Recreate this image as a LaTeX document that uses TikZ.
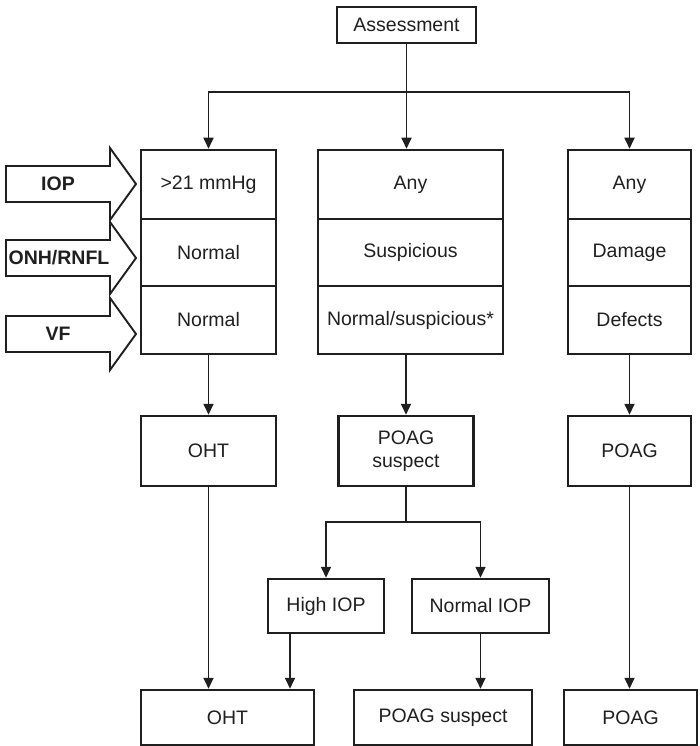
\documentclass[tikz,border=0pt]{standalone}
\usepackage{fontspec}
\setmainfont{Liberation Sans}
\usetikzlibrary{arrows.meta,calc}
\begin{document}
\begin{tikzpicture}[x=1pt,y=-1pt,
  every node/.style={font=\fontsize{19.5}{23}\selectfont, text=black!88},
  box/.style={draw=black!88, line width=2.5pt, inner sep=0pt, align=center},
  conn/.style={draw=black!88, line width=1.7pt},
  arr/.style={conn, -{Triangle[length=11pt,width=10pt]}},
  blk/.style={draw=black!88, line width=1.9pt, line join=miter},
  lab/.style={font=\fontsize{19.5}{23}\selectfont\bfseries},
  blockarr/.pic={\draw[blk] (-52,-18) -- (52,-18) -- (52,-36) -- (78,0) -- (52,36) -- (52,18) -- (-52,18) -- cycle;}]
\useasboundingbox (0,0) rectangle (700,746);

% top
\node[box, minimum width=139pt, minimum height=36pt] (assess) at (406.5,25) {Assessment};

% left column
\node[box, minimum width=135pt, minimum height=69pt] (l1) at (208.5,184.5) {>21 mmHg};
\node[box, minimum width=135pt, minimum height=67pt] (l2) at (208.5,252.5) {Normal};
\node[box, minimum width=135pt, minimum height=68pt] (l3) at (208.5,320) {Normal};
% middle column
\node[box, minimum width=185pt, minimum height=69pt] (m1) at (410.5,184.5) {Any};
\node[box, minimum width=185pt, minimum height=67pt] (m2) at (410.5,252.5) {Suspicious};
\node[box, minimum width=185pt, minimum height=68pt] (m3) at (410.5,320) {Normal/suspicious*};
% right column
\node[box, minimum width=123pt, minimum height=69pt] (r1) at (629.5,184.5) {Any};
\node[box, minimum width=123pt, minimum height=67pt] (r2) at (629.5,252.5) {Damage};
\node[box, minimum width=123pt, minimum height=68pt] (r3) at (629.5,320) {Defects};

% block arrows
\pic at (58,184) {blockarr};
\pic at (58,258) {blockarr};
\pic at (58,334) {blockarr};
\node[lab] (tiop) at (58,184) {IOP};
\node[lab] (tonh) at (59,258) {ONH/RNFL};
\node[lab] (tvf) at (58,334) {VF};

% second row
\node[box, minimum width=135pt, minimum height=70pt] (ohtA) at (208.5,451) {OHT};
\node[box, minimum width=135pt, minimum height=70pt] (poagS) at (406,451) {POAG\\suspect};
\node[box, minimum width=123pt, minimum height=70pt] (poagA) at (629.5,451) {POAG};

% third row
\node[box, minimum width=116pt, minimum height=54pt] (hiop) at (326,606) {High IOP};
\node[box, minimum width=137pt, minimum height=54pt] (niop) at (480.5,606) {Normal IOP};

% bottom row
\node[box, minimum width=173pt, minimum height=55pt] (ohtB) at (227.5,717.5) {OHT};
\node[box, minimum width=178pt, minimum height=55pt] (poagSB) at (443,717.5) {POAG suspect};
\node[box, minimum width=133pt, minimum height=55pt] (poagB) at (630.5,717.5) {POAG};

% connectors
\coordinate (hb) at (406.5,92);
\draw[conn] (assess.south) -- (hb);
\draw[arr] (hb) -| (l1.north);
\draw[arr] (hb) -- (hb |- m1.north);
\draw[arr] (hb) -| (r1.north);

\draw[arr] (l3.south) -- (ohtA.north);
\draw[arr] (poagS.north |- m3.south) -- (poagS.north);
\draw[arr] (r3.south) -- (poagA.north);

\coordinate (sp) at (406,522);
\draw[conn] (poagS.south) -- (sp);
\draw[arr] (sp) -| (hiop.north);
\draw[arr] (sp) -| (niop.north);

\coordinate (hiopout) at ([xshift=-36pt]hiop.south);
\draw[arr] (ohtA.south) -- (ohtA.south |- ohtB.north);
\draw[arr] (hiopout) -- (hiopout |- ohtB.north);
\draw[arr] (niop.south) -- (niop.south |- poagSB.north);
\draw[arr] (poagA.south) -- (poagA.south |- poagB.north);
\end{tikzpicture}
\end{document}
